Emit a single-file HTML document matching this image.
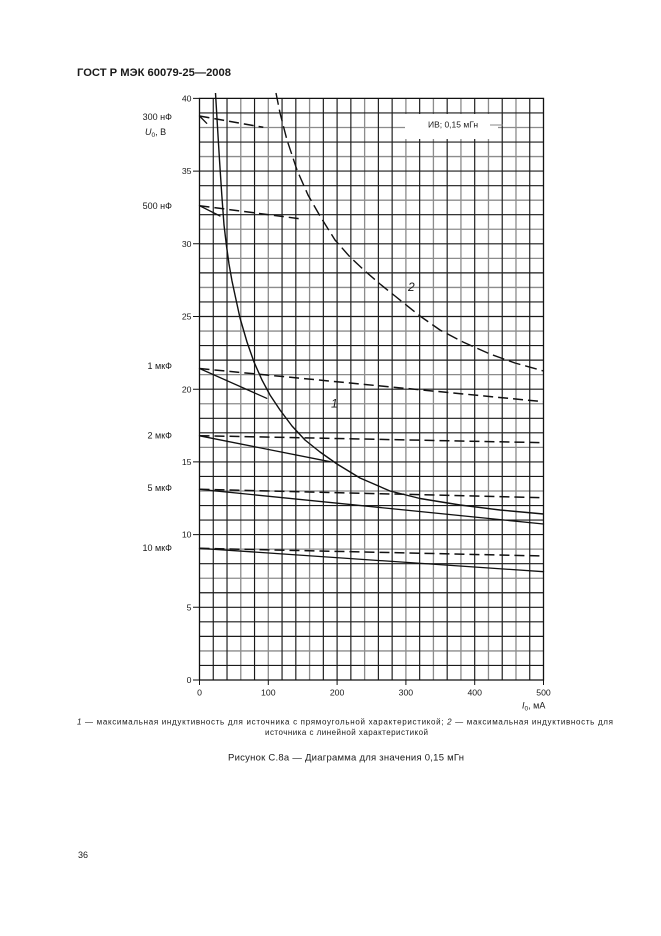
<!DOCTYPE html>
<html>
<head>
<meta charset="utf-8">
<style>
html,body{margin:0;padding:0;background:#fff;}
svg{display:block;}
</style>
</head>
<body>
<svg width="661" height="936" viewBox="0 0 661 936" xmlns="http://www.w3.org/2000/svg" font-family="'Liberation Sans', Arial, sans-serif" fill="#1a1a1a">
<rect width="661" height="936" fill="#fff"/>

<!-- Title -->
<text x="77" y="76" font-size="11" font-weight="bold" textLength="154" lengthAdjust="spacingAndGlyphs">ГОСТ Р МЭК 60079-25—2008</text>

<!-- grid gray -->
<path fill="none" stroke="#8c8c8c" stroke-width="1.3" d="
M240.78 98.4V680 M268.3 98.4V680 M309.58 98.4V680 M364.62 98.4V680 M405.9 98.4V680 M433.42 98.4V680 M460.94 98.4V680 M488.46 98.4V680 M515.98 98.4V680
M199.5 650.92H543.5 M199.5 578.22H543.5 M199.5 549.14H543.5 M199.5 490.98H543.5 M199.5 447.36H543.5 M199.5 403.74H543.5 M199.5 374.66H543.5 M199.5 331.04H543.5 M199.5 287.42H543.5 M199.5 258.34H543.5 M199.5 229.26H543.5 M199.5 200.18H543.5 M199.5 156.56H543.5 M199.5 127.48H543.5"/>
<!-- grid black -->
<path fill="none" stroke="#1a1a1a" stroke-width="1.15" d="
M213.26 98.4V680 M227.02 98.4V680 M254.54 98.4V680 M282.06 98.4V680 M295.82 98.4V680 M323.34 98.4V680 M337.1 98.4V680 M350.86 98.4V680 M378.38 98.4V680 M392.14 98.4V680 M419.66 98.4V680 M447.18 98.4V680 M474.7 98.4V680 M502.22 98.4V680 M529.74 98.4V680
M199.5 665.46H543.5 M199.5 636.38H543.5 M199.5 621.84H543.5 M199.5 607.3H543.5 M199.5 592.76H543.5 M199.5 563.68H543.5 M199.5 534.6H543.5 M199.5 520.06H543.5 M199.5 505.52H543.5 M199.5 476.44H543.5 M199.5 461.9H543.5 M199.5 432.82H543.5 M199.5 418.28H543.5 M199.5 389.2H543.5 M199.5 360.12H543.5 M199.5 345.58H543.5 M199.5 316.5H543.5 M199.5 301.96H543.5 M199.5 272.88H543.5 M199.5 243.8H543.5 M199.5 214.72H543.5 M199.5 185.64H543.5 M199.5 171.1H543.5 M199.5 142.02H543.5 M199.5 112.94H543.5"/>

<!-- legend box -->
<rect x="405" y="114" width="93" height="25" fill="#fff"/>
<text x="453" y="127.5" font-size="8.5" text-anchor="middle">ИВ; 0,15 мГн</text>
<line x1="490" y1="125" x2="503" y2="125" stroke="#888" stroke-width="1"/>

<!-- frame -->
<path fill="none" stroke="#111" stroke-width="1.3" d="M199.5 98.4H543.5V680H199.5Z"/>
<!-- ticks -->
<path fill="none" stroke="#111" stroke-width="1" d="M193 98.4H199.5 M193 171.1H199.5 M193 243.8H199.5 M193 316.5H199.5 M193 389.2H199.5 M193 461.9H199.5 M193 534.6H199.5 M193 607.3H199.5 M193 680H199.5
M199.5 680V685 M268.3 680V685 M337.1 680V685 M405.9 680V685 M474.7 680V685 M543.5 680V685"/>

<!-- y tick labels -->
<g font-size="8.7" text-anchor="end">
<text x="191.5" y="101.5">40</text>
<text x="191.5" y="174.2">35</text>
<text x="191.5" y="246.9">30</text>
<text x="191.5" y="319.6">25</text>
<text x="191.5" y="392.3">20</text>
<text x="191.5" y="465">15</text>
<text x="191.5" y="537.7">10</text>
<text x="191.5" y="610.4">5</text>
<text x="191.5" y="683.1">0</text>
</g>

<!-- capacitance labels -->
<g font-size="9" text-anchor="end">
<text x="172" y="120">300 нФ</text>
<text x="172" y="209">500 нФ</text>
<text x="172" y="369">1 мкФ</text>
<text x="172" y="438.3">2 мкФ</text>
<text x="172" y="491">5 мкФ</text>
<text x="172" y="551">10 мкФ</text>
</g>
<text x="145" y="135" font-size="9"><tspan font-style="italic">U</tspan><tspan font-size="6.5" dy="2">0</tspan><tspan dy="-2">, В</tspan></text>

<!-- x tick labels -->
<g font-size="8.7" text-anchor="middle">
<text x="199.5" y="695.6">0</text>
<text x="268.3" y="695.6">100</text>
<text x="337.1" y="695.6">200</text>
<text x="405.9" y="695.6">300</text>
<text x="474.7" y="695.6">400</text>
<text x="543.5" y="695.6">500</text>
</g>
<text x="522" y="708.5" font-size="9"><tspan font-style="italic">I</tspan><tspan font-size="6.5" dy="2">0</tspan><tspan dy="-2">, мА</tspan></text>

<!-- capacitor lines: solid -->
<g fill="none" stroke="#111" stroke-width="1.3" stroke-linecap="round">
<line x1="199.5" y1="116" x2="206.7" y2="123.3"/>
<line x1="199.5" y1="205.7" x2="220" y2="216"/>
<line x1="199.5" y1="368.5" x2="266.7" y2="398.3"/>
<line x1="199.5" y1="435.8" x2="330" y2="461.7"/>
<line x1="199.5" y1="489.3" x2="543.5" y2="524"/>
<line x1="199.5" y1="548.3" x2="543.5" y2="571.7"/>
</g>
<!-- capacitor lines: dashed -->
<g fill="none" stroke="#111" stroke-width="1.5" stroke-dasharray="10 5">
<line x1="199.5" y1="116" x2="263.3" y2="127.3"/>
<line x1="199.5" y1="205.7" x2="301.7" y2="219"/>
<line x1="199.5" y1="368.5" x2="543.5" y2="401.7"/>
<line x1="199.5" y1="435.7" x2="543.5" y2="442.7"/>
<line x1="199.5" y1="489.3" x2="543.5" y2="497.7"/>
<line x1="199.5" y1="548.3" x2="543.5" y2="556"/>
</g>

<!-- curve 1 (solid) -->
<polyline fill="none" stroke="#111" stroke-width="1.4" stroke-linejoin="round" points="215.5,93 217.5,127 219.5,160 221.8,195 224,225 226.5,246 229,264 232,281 235,295 240,318 247,342 254,362 262,380 270,395 280,410 292,426 305,440 320,452 337,464 360,478 390,491 420,498.5 460,505 500,510 543.5,514"/>
<!-- curve 2 (dashed) -->
<polyline fill="none" stroke="#111" stroke-width="1.4" stroke-dasharray="12 5" stroke-linejoin="round" points="276,93 280,113 287,140 297,170 308,195 320,216 335,240 350,257 365,271 380,284 395,296 420,316 440,330 463,342 490,354 515,363 543.5,371"/>

<!-- curve labels -->
<text x="408" y="291" font-size="12" font-style="italic">2</text>
<text x="331" y="407.5" font-size="12" font-style="italic">1</text>

<!-- footnote -->
<text x="77" y="724.5" font-size="8" textLength="536" lengthAdjust="spacing"><tspan font-style="italic">1</tspan> — максимальная индуктивность для источника с прямоугольной характеристикой; <tspan font-style="italic">2</tspan> — максимальная индуктивность для</text>
<text x="265" y="735" font-size="8" textLength="163" lengthAdjust="spacing">источника с линейной характеристикой</text>

<!-- caption -->
<text x="228" y="760.5" font-size="9.5" textLength="236" lengthAdjust="spacing">Рисунок С.8а — Диаграмма для значения 0,15 мГн</text>

<!-- page number -->
<text x="78" y="858" font-size="9">36</text>
</svg>
</body>
</html>
